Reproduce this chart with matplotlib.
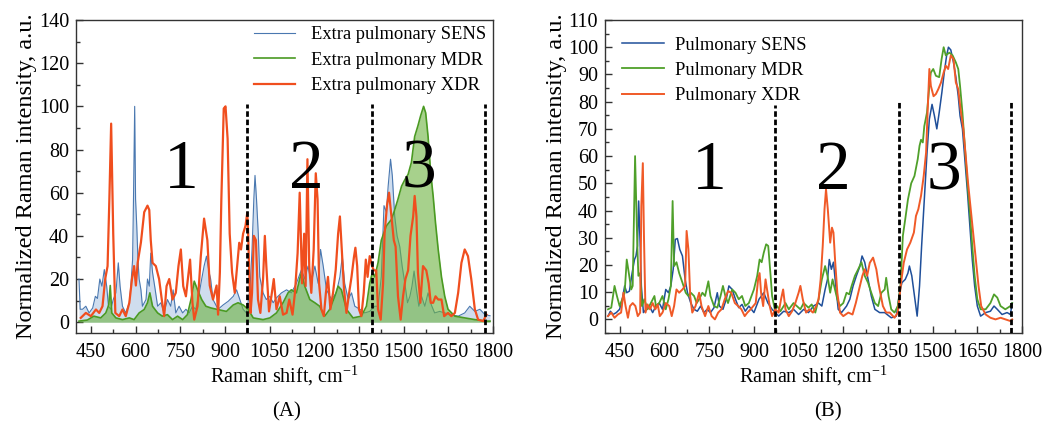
"""Raman spectra of extra pulmonary and pulmonary isolates (panels A and B)."""

import matplotlib.pyplot as plt
from matplotlib.ticker import MultipleLocator


# DATA: panel A, extra pulmonary
SENS_A_X = [410, 414, 422, 433, 444, 456, 465, 472, 480, 487, 495, 503, 509, 517, 525, 534, 542, 548, 556, 567,
            579, 584, 590, 593, 597, 600, 604, 608, 612, 618, 623, 635, 640, 646, 651, 657, 666, 674, 685, 696,
            707, 718, 726, 735, 746, 758, 769, 780, 791, 802, 814, 822, 830, 838, 847, 852, 860, 877, 894, 911,
            928, 939, 950, 961, 972, 984, 991, 997, 1001, 1006, 1012, 1017, 1028, 1039, 1051, 1062, 1073, 1090,
            1107, 1123, 1140, 1157, 1168, 1179, 1190, 1202, 1213, 1221, 1230, 1241, 1258, 1274, 1286, 1294, 1302,
            1314, 1325, 1336, 1353, 1369, 1386, 1403, 1414, 1425, 1434, 1442, 1448, 1456, 1462, 1470, 1478, 1487,
            1495, 1504, 1513, 1521, 1528, 1535, 1543, 1551, 1560, 1571, 1582, 1593, 1604, 1621, 1638, 1660, 1683,
            1705, 1722, 1739, 1756, 1773, 1790]
SENS_A_Y = [20, 6, 6, 7.4, 4.3, 6.6, 12, 11, 20, 16.7, 24.4, 16.7, 7.4, 6, 10.5, 13.6, 27.5, 16.7, 7.4, 4.3,
            9, 16.7, 29, 57, 100, 57, 44.6, 29, 20, 15, 7.4, 10.5, 20, 16.7, 32, 23, 15, 7.4, 9, 4.3,
            10.5, 7.4, 15, 4.3, 7.4, 4.3, 6, 4.3, 7.4, 6, 13.6, 20, 26, 30.6, 23, 20, 10.5, 6, 8, 9.7,
            12, 15, 10.5, 6, 4.3, 15, 33.7, 57, 68, 57, 41, 21, 13.6, 10.5, 12, 9, 11.3, 13.6,
            15, 13.6, 18, 24.4, 20, 26, 18, 26, 18, 33.7, 26, 15, 10.5, 13.6, 21, 30.6, 18,
            10.5, 13.6, 7.4, 6, 4.3, 5, 7.4, 7.4, 21, 54, 51, 63, 75.5, 67.8, 49, 40, 35,
            26, 18, 9, 12, 16.7, 23.7, 15, 7.4, 12, 7.4, 13.6, 8, 4.3, 5, 4.3, 3.5, 2.8,
            4.3, 7.4, 5, 6, 3.5, 3]

MDR_A_X = [410, 438, 460, 483, 500, 510, 515, 520, 534, 556, 579, 595, 612, 629, 640, 648, 657, 674, 690, 707,
           724, 741, 758, 774, 786, 797, 808, 822, 836, 853, 872, 905, 928, 944, 961, 978, 995, 1028, 1051, 1073,
           1095, 1112, 1123, 1140, 1151, 1157, 1168, 1185, 1202, 1218, 1235, 1252, 1269, 1280, 1291, 1308, 1330,
           1358, 1375, 1386, 1395, 1403, 1414, 1425, 1442, 1459, 1470, 1481, 1493, 1504, 1515, 1526, 1537, 1548,
           1557, 1567, 1574, 1582, 1591, 1599, 1607, 1616, 1627, 1638, 1649, 1672, 1705, 1739, 1778, 1790]
MDR_A_Y = [0.5, 1, 2.8, 2, 4.3, 8, 17, 4.3, 2, 1.2, 2, 1.2, 4.3, 5.9, 9, 13.6, 7.4, 4.3, 2.8, 3.5,
           1.2, 2.8, 1.2, 3.5, 10.5, 19, 15, 10.5, 7.4, 6.6, 6, 5, 8, 9, 8, 6, 2, 1.2, 2, 4.3,
           9, 13.6, 15, 13.6, 20, 23, 16.7, 10.5, 9, 7.4, 2.8, 6, 12, 16.7, 15, 6, 2,
           2.8, 7.4, 18, 23, 21, 27.5, 38, 44.6, 47.6, 52, 57, 63, 66, 68.5, 74, 86, 91,
           95.6, 100, 97, 86, 69, 58.5, 46, 33.7, 21, 12, 6, 2.8, 2, 1.2, 0.5, 0.5]

XDR_A_X = [416, 433, 450, 467, 478, 489, 498, 506, 512, 518, 525, 532, 545, 556, 567, 579, 588, 595, 601, 607,
           618, 629, 640, 646, 651, 657, 668, 679, 688, 696, 704, 713, 724, 735, 744, 752, 760, 769, 783, 791,
           797, 808, 819, 830, 841, 849, 860, 872, 877, 883, 888, 896, 902, 909, 916, 924, 933, 941, 948, 954,
           961, 969, 975, 978, 981, 986, 991, 997, 1004, 1011, 1019, 1028, 1034, 1039, 1048, 1056, 1064, 1073,
           1084, 1095, 1107, 1116, 1127, 1135, 1144, 1151, 1159, 1166, 1171, 1177, 1183, 1190, 1198, 1205, 1211,
           1216, 1224, 1232, 1239, 1246, 1254, 1263, 1272, 1280, 1286, 1293, 1300, 1308, 1317, 1325, 1333, 1338,
           1344, 1350, 1358, 1366, 1373, 1379, 1386, 1394, 1400, 1408, 1414, 1423, 1431, 1436, 1444, 1451, 1459,
           1467, 1473, 1481, 1490, 1498, 1506, 1515, 1523, 1532, 1537, 1543, 1548, 1556, 1565, 1576, 1584, 1591,
           1599, 1607, 1616, 1627, 1636, 1649, 1660, 1672, 1683, 1694, 1705, 1716, 1727, 1739, 1750, 1767, 1778]
XDR_A_Y = [2, 4.3, 2.8, 5.9, 4.3, 7.4, 20, 26, 57, 92, 41, 4.3, 2.8, 5.9, 2.8, 9, 20, 26, 17, 27.5,
           37, 51, 54, 52, 38, 27.5, 26, 20, 10.5, 2.8, 16.7, 20, 10.5, 13.6, 26, 33.7, 16.7, 12, 29, 9,
           1.2, 7.4, 30.6, 48, 38, 17, 10.5, 17, 3.5, 23, 57, 99, 100, 85, 41, 23, 13.6, 26, 36.8, 33.7,
           41, 44.6, 50.7, 41, 26, 4.3, 13.6, 40, 38, 10.5, 4.3, 20, 40, 26, 5, 12, 20, 6,
           12, 3.5, 4.3, 10.5, 3.5, 13.6, 32, 60, 18, 41, 16.7, 75.5, 26, 13.6, 33.7, 69, 57,
           18, 6, 2.8, 13.6, 21, 6, 13.6, 24.4, 41, 49, 32, 15, 4.3, 13.6, 21, 30, 34.5,
           26, 6, 2.8, 13.6, 29, 21, 30.6, 26, 24, 24, 6, 1.2, 18, 41, 54, 60, 49,
           38, 35, 12, 1.2, 12, 20, 24, 40, 49, 58.5, 49, 23, 9, 26, 24, 18, 9,
           9, 12, 10.5, 10.5, 2.8, 4.3, 2.8, 4.3, 13.6, 27.5, 33.7, 30.6, 20, 6, 1.2, 0.5, 3.5]

# DATA: panel B, pulmonary
SENS_B_X = [410, 418, 427, 438, 449, 458, 466, 473, 482, 491, 499, 504, 509, 513, 518, 522, 529, 538, 549, 560,
            571, 582, 593, 604, 613, 621, 629, 636, 643, 651, 660, 669, 677, 688, 699, 710, 721, 732, 743, 754,
            766, 777, 784, 796, 807, 816, 827, 838, 849, 860, 871, 883, 900, 917, 933, 947, 961, 972, 983, 1000,
            1017, 1033, 1050, 1067, 1083, 1100, 1117, 1128, 1139, 1147, 1153, 1160, 1167, 1176, 1183, 1194, 1211,
            1222, 1233, 1244, 1256, 1263, 1272, 1283, 1294, 1306, 1322, 1339, 1361, 1378, 1389, 1397, 1408, 1417,
            1422, 1430, 1439, 1448, 1456, 1463, 1472, 1481, 1489, 1498, 1506, 1514, 1522, 1531, 1539, 1547, 1553,
            1561, 1570, 1578, 1586, 1592, 1600, 1608, 1617, 1626, 1633, 1641, 1650, 1661, 1678, 1694, 1706, 1717,
            1733, 1750, 1761, 1767]
SENS_B_Y = [1.2, 3, 1.8, 2.5, 3.7, 7.4, 12.3, 9.8, 10.4, 17, 22, 23.3, 27, 43.5, 28, 12.3, 2.5, 3.7, 4.9, 2.5,
            4.9, 6, 3.7, 11, 9.8, 12.3, 18.4, 29.4, 29.7, 25.7, 23.3, 14.7, 9.8, 6, 3.7, 3, 4.9, 2.5, 3.7, 2.5,
            4.3, 9.8, 4.9, 3.7, 7.4, 12.3, 11, 7.4, 4.3, 5.5, 3, 4.9, 2.5, 7.4, 9.8, 6, 3.7, 2.5, 1.2, 3,
            2.5, 3.7, 1.8, 3.7, 2.5, 4.9, 6, 4.9, 11, 14.7, 22, 18.4, 21, 11, 3.7, 2.5, 4.9,
            7.4, 12.3, 16, 19.6, 23.3, 21, 14.7, 8.6, 3.7, 2.5, 2.5, 0.6, 1.2, 9.8, 13.5, 14.7, 17,
            19.6, 16, 8.6, 1.2, 12.3, 27, 44, 61, 73.6, 79, 74.8, 70, 76, 83.4, 90.7, 97, 100,
            99, 94.4, 89, 82, 74.8, 70, 58.9, 46.6, 33, 22, 12.3, 4.9, 1.2, 2.5, 3, 4.9, 3.7,
            1.8, 2.5, 1.8, 6]

MDR_B_X = [410, 421, 432, 440, 449, 458, 466, 473, 480, 488, 493, 501, 508, 512, 518, 524, 532, 543, 554, 566,
           571, 582, 593, 604, 613, 621, 627, 632, 640, 649, 660, 671, 680, 688, 699, 708, 716, 727, 736, 747,
           754, 766, 777, 788, 796, 804, 813, 827, 838, 849, 860, 871, 883, 900, 911, 919, 926, 933, 941, 948,
           956, 961, 970, 978, 989, 1006, 1017, 1033, 1044, 1056, 1067, 1083, 1094, 1106, 1117, 1128, 1139, 1147,
           1156, 1164, 1172, 1180, 1189, 1200, 1211, 1220, 1228, 1239, 1250, 1261, 1272, 1283, 1294, 1306, 1317,
           1328, 1339, 1344, 1352, 1361, 1372, 1383, 1392, 1400, 1408, 1417, 1428, 1439, 1450, 1456, 1461, 1467,
           1472, 1481, 1489, 1494, 1502, 1511, 1522, 1530, 1537, 1544, 1556, 1567, 1578, 1586, 1592, 1600, 1608,
           1617, 1626, 1633, 1641, 1650, 1661, 1678, 1694, 1706, 1717, 1728, 1744, 1761, 1767]
MDR_B_Y = [3.7, 4.3, 12.3, 8.6, 4.9, 7.4, 9.8, 22, 17, 11, 12.3, 60, 29, 16, 17, 4.9, 7.4, 3.7, 6, 8.6,
           4.9, 6, 8.6, 3.7, 7.4, 12.3, 43.5, 19.6, 21, 17, 13.5, 9.8, 8.6, 9.8, 8.6, 6, 7.4, 9.8, 8.6, 14,
           8.6, 4.9, 4.3, 8.6, 12.3, 8.6, 6, 11, 9.8, 7.4, 8.6, 4.9, 6, 11, 16, 22, 21, 24.5, 27.6, 27,
           16, 8.6, 3.7, 4.9, 3, 6, 3.7, 6, 4.9, 3.7, 6, 4.3, 5.5, 2.5, 7.4, 14.7, 19.6, 16,
           9.8, 14.7, 11, 7.4, 4.9, 6, 9.8, 9.2, 12.3, 16, 18.4, 21, 16, 13.5, 9.8, 6, 4.9,
           9.8, 11, 15.3, 8.6, 3.7, 2.5, 4.9, 12.3, 30.7, 36.8, 44, 50, 52.7, 58.9, 63.8, 66, 65,
           71, 76, 85.8, 90.7, 92, 89.5, 89, 95.6, 100, 97, 98, 97, 94.4, 92, 85.8, 76, 63.8,
           50, 38, 27, 16, 7.4, 3.7, 3.7, 6, 9.2, 8, 4.9, 3.7, 4.9, 6]

XDR_B_X = [410, 421, 432, 443, 454, 462, 469, 477, 484, 493, 502, 510, 518, 522, 527, 531, 536, 543, 551, 560,
           569, 577, 584, 593, 604, 616, 624, 632, 640, 649, 660, 669, 674, 680, 686, 693, 704, 716, 724, 736,
           747, 758, 769, 780, 791, 802, 813, 824, 836, 847, 858, 869, 878, 889, 906, 914, 919, 924, 931, 939,
           944, 953, 961, 972, 983, 991, 998, 1006, 1017, 1028, 1039, 1050, 1056, 1064, 1075, 1086, 1098, 1109,
           1117, 1124, 1131, 1137, 1142, 1148, 1156, 1162, 1167, 1173, 1180, 1189, 1200, 1217, 1231, 1242, 1253,
           1264, 1272, 1280, 1289, 1300, 1311, 1317, 1322, 1333, 1344, 1356, 1372, 1383, 1394, 1403, 1414, 1425,
           1437, 1444, 1452, 1461, 1470, 1478, 1483, 1489, 1494, 1503, 1511, 1519, 1528, 1537, 1544, 1552, 1561,
           1570, 1578, 1586, 1594, 1603, 1611, 1619, 1628, 1637, 1646, 1654, 1663, 1678, 1694, 1711, 1728, 1744,
           1761, 1767]
XDR_B_Y = [1.2, 2.5, 0.6, 1.8, 2.5, 9.8, 4.9, 0.6, 4.9, 6, 4.9, 1.2, 2.5, 41.7, 57.4, 29.4, 2.5, 5.5, 3.7, 6,
           3.7, 5.5, 1.2, 2.5, 6, 4.9, 1.2, 4.9, 11, 9.8, 11, 12.3, 32.5, 25.7, 8.6, 2.5, 4.9, 9.8, 4.9, 1.2,
           4.9, 1.2, 0, 2.5, 3.7, 7.4, 10.4, 9.8, 6, 4.9, 3.7, 1.2, 2.5, 3.7, 6, 14.7, 17, 9.8, 4.9, 14.7,
           11, 4.9, 1.2, 3.7, 2.5, 7.4, 11, 3.7, 1.2, 3, 6, 9.8, 12.3, 7.4, 2.5, 3.7, 2.5, 4.9,
           7.4, 14.7, 27, 40.5, 47.8, 40.5, 28.2, 33.7, 31.9, 20.8, 9.8, 2.5, 1.2, 2.5, 1.8, 6, 11,
           16, 18.4, 16, 20.8, 22.7, 18.4, 14, 11, 4.9, 2.5, 2.5, 0.6, 2.5, 13.5, 20.8, 25.7, 28.2,
           31.9, 38, 40.5, 45.4, 52.7, 61.3, 76, 92, 85.8, 82, 82.8, 84.6, 87, 90.7, 93.2, 92, 97,
           95.6, 87, 84.6, 77, 70, 60, 50, 40.5, 30.7, 20.8, 12.3, 4.9, 1.8, 0.6, 0, 0.6, 0,
           -0.6, 0]

REGION_LABELS = ["1", "2", "3"]
REGION_X_A = [753, 1172, 1551]
REGION_X_B = [750, 1167, 1539]
BOUNDARIES_A = [974, 1395, 1774]
BOUNDARIES_B = [970, 1388, 1763]

LABELS_A = ["Extra pulmonary SENS", "Extra pulmonary MDR", "Extra pulmonary XDR"]
LABELS_B = ["Pulmonary SENS", "Pulmonary MDR", "Pulmonary XDR"]


# STYLE
plt.rcParams["font.family"] = ["Liberation Serif", "DejaVu Serif"]
plt.rcParams["mathtext.fontset"] = "custom"
plt.rcParams["mathtext.rm"] = "Liberation Serif"
TICK_SIZE = 14.5
XLABEL_SIZE = 14.5
YLABEL_SIZE = 17.5
LEGEND_SIZE = 13.3
DASH_STYLE = (0, (2, 1))


def _style_axes(ax, y_max: float, y_major: float, y_minor: float) -> None:
    """Axis limits, ticks and labels shared by both panels."""
    ax.set_xlim(400, 1800)
    ax.set_ylim(-5, y_max)
    ax.xaxis.set_major_locator(MultipleLocator(150))
    ax.xaxis.set_minor_locator(MultipleLocator(75))
    ax.yaxis.set_major_locator(MultipleLocator(y_major))
    ax.yaxis.set_minor_locator(MultipleLocator(y_minor))
    ax.tick_params(which="both", direction="in", top=False, right=False, labelsize=TICK_SIZE, color="#333333")
    ax.tick_params(which="major", length=5, width=1)
    ax.tick_params(which="minor", length=3, width=1)
    ax.tick_params(axis="x", pad=7)
    ax.tick_params(axis="y", pad=5)
    for spine in ax.spines.values():
        spine.set_linewidth(1.0)
        spine.set_color("#333333")
    ax.set_xlabel(r"Raman shift, cm$^{\mathrm{-1}}$", fontsize=XLABEL_SIZE, labelpad=1)
    ax.set_ylabel("Normalized Raman intensity, a.u.", fontsize=YLABEL_SIZE, labelpad=1)


def _draw_regions(ax, boundaries, top, region_x, region_y) -> None:
    """Dashed region boundaries and the big region numbers."""
    for x_value, y_top in zip(boundaries, top):
        ax.vlines(x_value, -5, y_top, colors="black", linestyles=DASH_STYLE, linewidth=2.0, zorder=5)
    for label, x_value in zip(REGION_LABELS, region_x):
        ax.text(x_value, region_y, label, fontsize=50, ha="center", va="baseline", zorder=6)


def plot_panel_a(ax) -> None:
    """Extra pulmonary spectra with filled SENS and MDR areas."""
    ax.fill_between(SENS_A_X, SENS_A_Y, 0, color="#a9c2e0", alpha=0.55, linewidth=0, zorder=1)
    ax.plot(SENS_A_X, SENS_A_Y, color="#4a78b0", linewidth=0.8, label=LABELS_A[0], zorder=2)
    ax.fill_between(MDR_A_X, MDR_A_Y, 0, color="#6cb33f", alpha=0.6, linewidth=0, zorder=3)
    ax.plot(MDR_A_X, MDR_A_Y, color="#4a9a22", linewidth=1.2, label=LABELS_A[1], zorder=3)
    ax.plot(XDR_A_X, XDR_A_Y, color="#f04e1e", linewidth=1.6, label=LABELS_A[2], zorder=4)
    _style_axes(ax, 140, 20, 10)
    _draw_regions(ax, BOUNDARIES_A, [101, 101, 101], REGION_X_A, 62.3)
    ax.legend(loc="upper right", frameon=False, fontsize=LEGEND_SIZE, handlelength=2.2,
              handletextpad=0.9, labelspacing=0.45, borderaxespad=0.1, borderpad=0.25)


def plot_panel_b(ax) -> None:
    """Pulmonary spectra, lines only."""
    ax.plot(SENS_B_X, SENS_B_Y, color="#1f4f9a", linewidth=1.1, label=LABELS_B[0], zorder=2)
    ax.plot(MDR_B_X, MDR_B_Y, color="#4fa02a", linewidth=1.3, label=LABELS_B[1], zorder=3)
    ax.plot(XDR_B_X, XDR_B_Y, color="#f05a28", linewidth=1.4, label=LABELS_B[2], zorder=4)
    _style_axes(ax, 110, 10, 5)
    _draw_regions(ax, BOUNDARIES_B, [78.7, 80, 80], REGION_X_B, 47.8)
    ax.legend(loc="upper left", frameon=False, fontsize=LEGEND_SIZE, handlelength=2.3,
              handletextpad=0.6, labelspacing=0.45, borderaxespad=0.5, borderpad=0.4)


def main() -> None:
    fig = plt.figure(figsize=(10.45, 4.23), dpi=100)
    ax_a = fig.add_axes([76 / 1045, 90 / 423, 417 / 1045, 313 / 423])
    ax_b = fig.add_axes([605 / 1045, 90 / 423, 417 / 1045, 313 / 423])
    plot_panel_a(ax_a)
    plot_panel_b(ax_b)
    fig.text(287 / 1045, 0.026, "(A)", fontsize=15, ha="center", va="center")
    fig.text(828 / 1045, 0.026, "(B)", fontsize=15, ha="center", va="center")
    fig.savefig("out.png", dpi=100)
    plt.close(fig)


if __name__ == "__main__":
    main()
